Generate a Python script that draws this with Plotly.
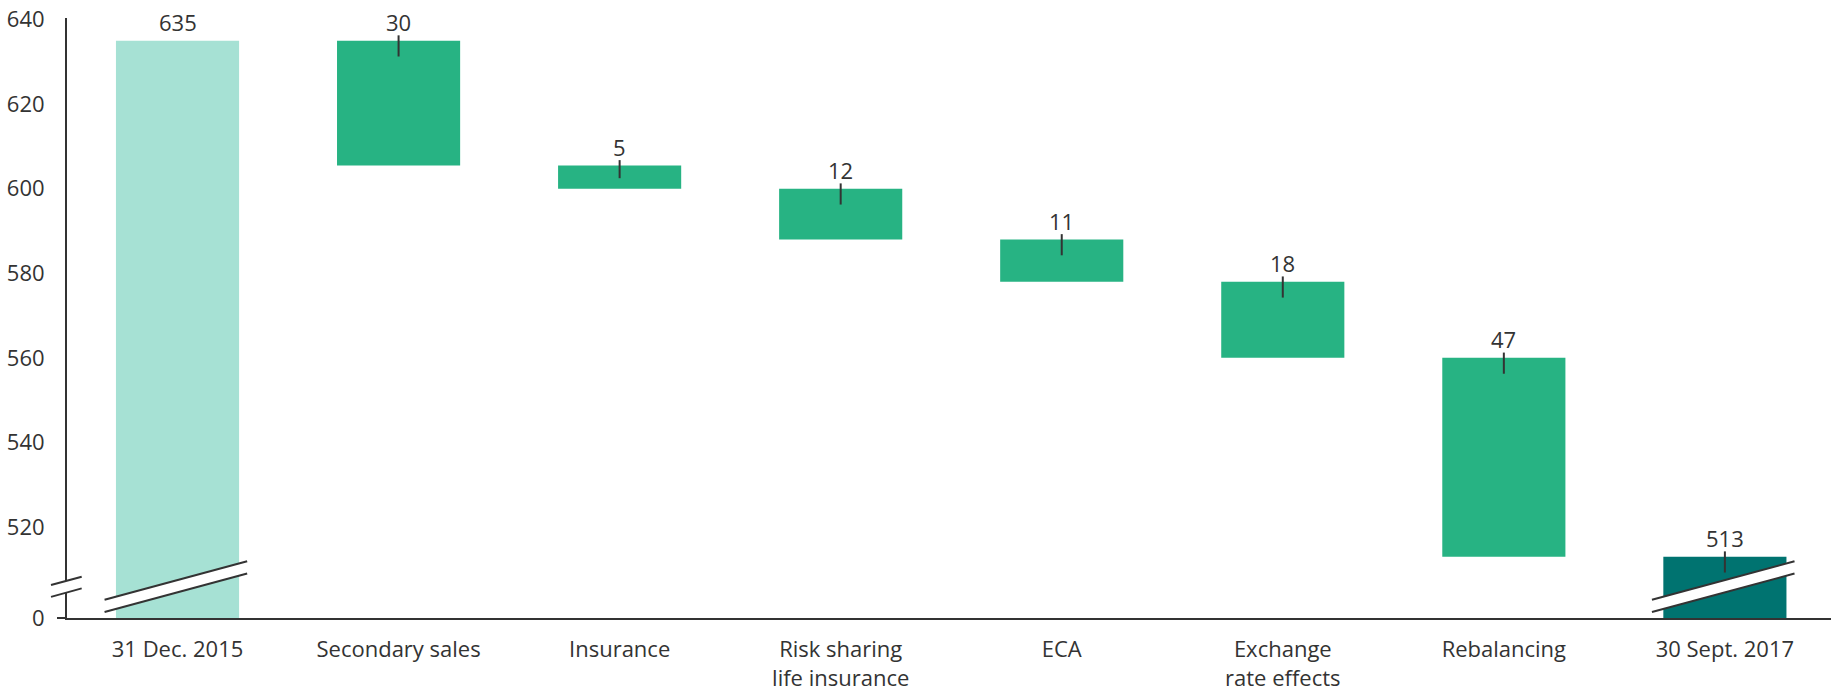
import plotly.graph_objects as go

# categorias y valores
categorias = ['31 Dec. 2015', 'Secondary sales', 'Insurance', 'Risk sharing<br>life insurance',
              'ECA', 'Exchange<br>rate effects', 'Rebalancing', '30 Sept. 2017']
etiquetas = ['635', '30', '5', '12', '11', '18', '47', '513']
# nivel acumulado despues de cada paso (tal como se dibuja)
niveles = [635, 605.5, 600, 588, 578, 560, 513]
tipos = ['total', 'baja', 'baja', 'baja', 'baja', 'baja', 'baja', 'total']

y_corte = 498.5          # valor del eje roto que se muestra como "0"
y_max = 640.35
ticks_y = [520, 540, 560, 580, 600, 620, 640]

colores = {'inicio': '#a6e1d4', 'baja': '#27b383', 'final': '#007370'}
texto = '#333333'
fuente = 'Open Sans'
tam = 22

# construir barras flotantes
tops, bases, cols = [], [], []
for i, t in enumerate(tipos):
     if i == 0:
          tops.append(niveles[0]); bases.append(y_corte); cols.append(colores['inicio'])
     elif i == len(tipos) - 1:
          tops.append(niveles[-1]); bases.append(y_corte); cols.append(colores['final'])
     else:
          tops.append(niveles[i - 1]); bases.append(niveles[i]); cols.append(colores['baja'])

xs = list(range(len(categorias)))

fig = go.Figure(go.Bar(
     x=xs,
     y=[t - b for t, b in zip(tops, bases)],
     base=bases,
     marker=dict(color=cols, line=dict(width=0)),
     width=0.557,
     hoverinfo='skip'
))

shapes = []
annotations = []

# etiquetas de valor con su pequena linea vertical
for i in xs:
     annotations.append(dict(x=i, y=tops[i], xref='x', yref='y', text=etiquetas[i],
                             showarrow=False, yanchor='middle', yshift=18.5,
                             font=dict(family=fuente, size=tam, color=texto)))
     if i > 0:
          abajo = min(3.75, 0.55 * (tops[i] - bases[i]))
          shapes.append(dict(type='line', xref='x', yref='y', x0=i, x1=i,
                             y0=tops[i] + 1.25, y1=tops[i] - abajo,
                             line=dict(color='#333333', width=2), layer='above'))

# marcas de corte en las barras (inicio y final)
def corte(xl, xr, y1l, y1r, y2l, y2r, xref='x'):
     path = f'M{xl},{y1l} L{xr},{y1r} L{xr},{y2r} L{xl},{y2l} Z'
     shapes.append(dict(type='path', xref=xref, yref='y', path=path,
                        fillcolor='white', line=dict(width=0), layer='above'))
     shapes.append(dict(type='line', xref=xref, yref='y', x0=xl, x1=xr, y0=y1l, y1=y1r,
                        line=dict(color='#333333', width=2), layer='above'))
     shapes.append(dict(type='line', xref=xref, yref='y', x0=xl, x1=xr, y0=y2l, y1=y2r,
                        line=dict(color='#333333', width=2), layer='above'))

for i in [0, len(xs) - 1]:
     corte(i - 0.33, i + 0.315, 502.8, 511.9, 499.9, 509.0)

# corte en el eje y (coordenadas de papel en x)
ancho_plot = 1764
corte(-16 / ancho_plot, 14.7 / ancho_plot, 506.3, 508.25, 503.5, 505.5, xref='paper')

# marca del "0"
shapes.append(dict(type='line', xref='paper', yref='paper', x0=-10 / ancho_plot, x1=0,
                   y0=0, y1=0, line=dict(color='#333333', width=2), layer='above'))

fig.update_layout(
     width=1831, height=686,
     margin=dict(l=67, r=0, t=18, b=68),
     plot_bgcolor='white',
     paper_bgcolor='white',
     showlegend=False,
     font=dict(family=fuente, size=tam, color=texto),
     xaxis=dict(range=[-0.5, 7.48], tickvals=xs, ticktext=categorias,
                showline=True, linecolor='#333333', linewidth=2, automargin=False,
                showgrid=False, zeroline=False, ticks='', ticklabelstandoff=11,
                ticklabeloverflow='allow',
                tickfont=dict(family=fuente, size=tam, color=texto)),
     yaxis=dict(range=[y_corte, y_max], tickvals=[y_corte] + ticks_y,
                ticktext=['0'] + [str(v) for v in ticks_y],
                showline=True, linecolor='#333333', linewidth=2, automargin=False,
                showgrid=False, zeroline=False, ticks='', ticklabelstandoff=16,
                ticklabeloverflow='allow',
                tickfont=dict(family=fuente, size=tam, color=texto)),
     shapes=shapes,
     annotations=annotations
)

# quitar el margen por defecto del body para que la figura llene la ventana
fig.write_html("out.html", config={'displayModeBar': False},
               post_script="document.body.style.margin='0';")
